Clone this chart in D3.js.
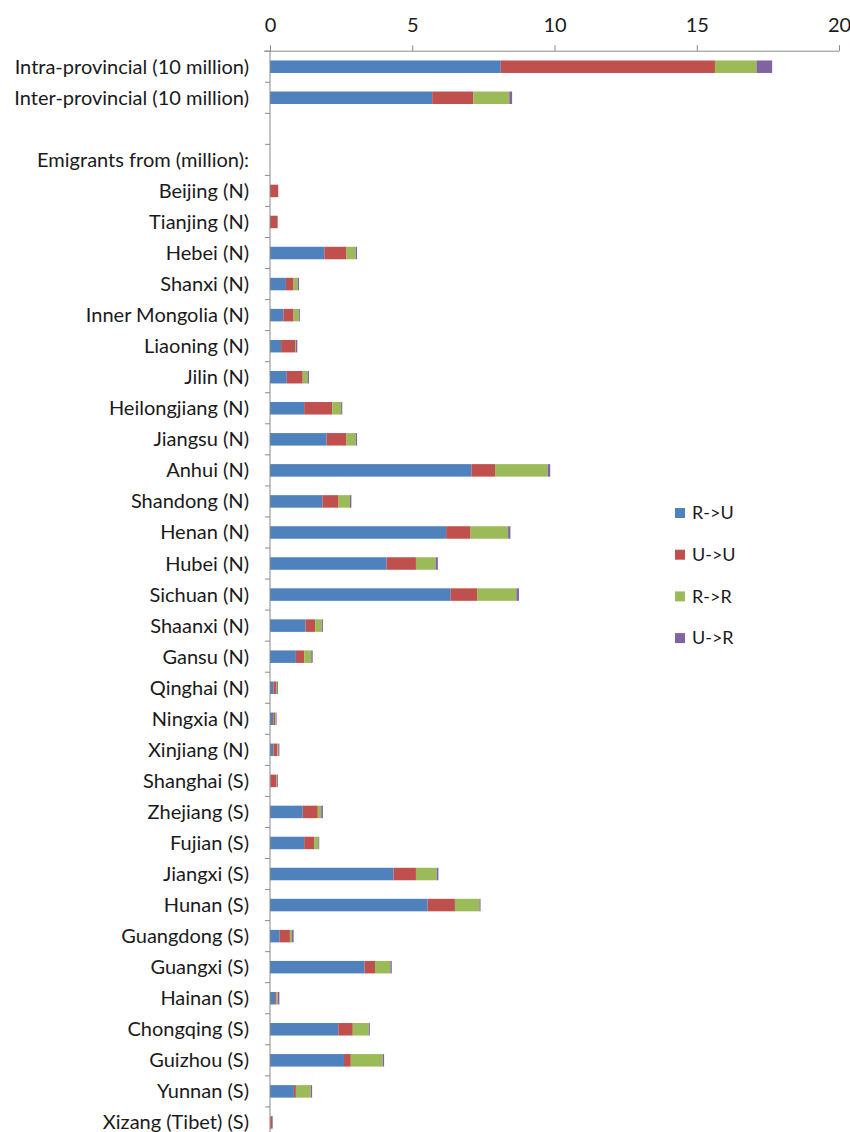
<!DOCTYPE html>
<html>
<head>
<meta charset="utf-8">
<script src="https://cdn.jsdelivr.net/npm/d3@7"></script>
<style>
  html, body { margin: 0; padding: 0; background: #fff; }
  svg { display: block; }
  text { font-family: Lato, "Open Sans", sans-serif; fill: #1a1a1a; }
</style>
</head>
<body>
<svg id="chart" width="850" height="1132"></svg>
<script>
// ---- data ----
const categories = [
  "Intra-provincial (10 million)", "Inter-provincial (10 million)", "",
  "Emigrants from (million):",
  "Beijing (N)", "Tianjing (N)", "Hebei (N)", "Shanxi (N)", "Inner Mongolia (N)",
  "Liaoning (N)", "Jilin (N)", "Heilongjiang (N)", "Jiangsu (N)", "Anhui (N)",
  "Shandong (N)", "Henan (N)", "Hubei (N)", "Sichuan (N)", "Shaanxi (N)",
  "Gansu (N)", "Qinghai (N)", "Ningxia (N)", "Xinjiang (N)", "Shanghai (S)",
  "Zhejiang (S)", "Fujian (S)", "Jiangxi (S)", "Hunan (S)", "Guangdong (S)",
  "Guangxi (S)", "Hainan (S)", "Chongqing (S)", "Guizhou (S)", "Yunnan (S)",
  "Xizang (Tibet) (S)"
];
const seriesNames = ["R->U", "U->U", "R->R", "U->R"];
const rToU = [8.11, 5.70, 0, 0, 0.00, 0.00, 1.91, 0.56, 0.47, 0.39, 0.59, 1.20, 1.99, 7.08,
  1.84, 6.19, 4.10, 6.35, 1.25, 0.91, 0.12, 0.12, 0.12, 0.01, 1.15, 1.20, 4.34, 5.54, 0.33,
  3.32, 0.18, 2.40, 2.60, 0.84, 0.01];
const uToU = [7.53, 1.45, 0, 0, 0.29, 0.27, 0.78, 0.27, 0.36, 0.49, 0.56, 0.99, 0.70, 0.83,
  0.57, 0.86, 1.03, 0.93, 0.34, 0.29, 0.09, 0.06, 0.14, 0.22, 0.53, 0.35, 0.79, 0.96, 0.37,
  0.37, 0.05, 0.51, 0.24, 0.07, 0.07];
const rToR = [1.46, 1.26, 0, 0, 0.00, 0.00, 0.32, 0.14, 0.18, 0.03, 0.17, 0.31, 0.32, 1.85,
  0.40, 1.32, 0.69, 1.38, 0.23, 0.25, 0.04, 0.03, 0.03, 0.02, 0.12, 0.15, 0.73, 0.86, 0.07,
  0.54, 0.04, 0.56, 1.12, 0.52, 0.00];
const uToR = [0.55, 0.10, 0, 0, 0.00, 0.00, 0.05, 0.05, 0.04, 0.05, 0.05, 0.04, 0.05, 0.09,
  0.05, 0.08, 0.08, 0.09, 0.04, 0.05, 0.03, 0.02, 0.04, 0.03, 0.06, 0.03, 0.06, 0.04, 0.06,
  0.05, 0.06, 0.04, 0.05, 0.05, 0.02];
const xTicks = [0, 5, 10, 15, 20];
const colors = ["#4F81BD", "#C0504D", "#9BBB59", "#8064A2"];

// ---- build ----
const rows = categories.map((c, i) => ({
  key: i, label: c, R_U: rToU[i], U_U: uToU[i], R_R: rToR[i], U_R: uToR[i]
}));
const keys = ["R_U", "U_U", "R_R", "U_R"];
const stack = d3.stack().keys(keys)(rows);

const svg = d3.select("#chart");
const x = d3.scaleLinear().domain([0, 20]).range([270, 839]);
const y = d3.scaleBand().domain(rows.map(r => r.key)).range([51.2, 51.2 + 35 * 31.05]).paddingInner(0).paddingOuter(0);
const barH = 12.5;
const axisColor = "#8a8a8a";

// bars
svg.append("g").selectAll("g").data(stack).join("g")
  .attr("fill", (d, i) => colors[i])
  .selectAll("rect").data(d => d).join("rect")
  .attr("x", d => x(d[0]))
  .attr("width", d => Math.max(0, x(d[1]) - x(d[0])))
  .attr("y", (d, i) => y(i) + y.bandwidth() / 2 - barH / 2)
  .attr("height", barH);

// x axis (top)
const xAxis = d3.axisTop(x).tickValues(xTicks).tickSize(6).tickPadding(13).tickFormat(d3.format("d"));
const gx = svg.append("g").attr("transform", "translate(0,51.2)").call(xAxis);
gx.select(".domain").attr("stroke", axisColor).attr("d", `M${x(0) - 6},0H${x(20)}`);
gx.selectAll(".tick line").attr("stroke", axisColor);
gx.selectAll(".tick text").attr("font-size", 20).attr("font-family", "Lato").attr("fill", "#1a1a1a");

// y axis line and ticks between categories
const yTop = y.range()[0], yBot = y.range()[1];
svg.append("line").attr("x1", x(0)).attr("x2", x(0)).attr("y1", yTop).attr("y2", yBot)
  .attr("stroke", axisColor);
svg.append("g").selectAll("line").data(d3.range(categories.length + 1)).join("line")
  .attr("x1", x(0) - 5).attr("x2", x(0))
  .attr("y1", i => yTop + i * y.step()).attr("y2", i => yTop + i * y.step())
  .attr("stroke", axisColor);

// category labels
svg.append("g").selectAll("text").data(rows).join("text")
  .attr("x", 249)
  .attr("y", d => y(d.key) + y.bandwidth() / 2)
  .attr("dy", "0.35em")
  .attr("text-anchor", "end")
  .attr("font-size", 20)
  .text(d => d.label);

// legend
const lg = svg.append("g").attr("transform", "translate(675,513)");
const li = lg.selectAll("g").data(seriesNames).join("g")
  .attr("transform", (d, i) => `translate(0,${i * 41.7})`);
li.append("rect").attr("x", 0).attr("y", -5).attr("width", 10).attr("height", 10)
  .attr("fill", (d, i) => colors[i]);
li.append("text").attr("x", 17).attr("y", 0).attr("dy", "0.35em").attr("font-size", 18)
  .text(d => d);
</script>
</body>
</html>
